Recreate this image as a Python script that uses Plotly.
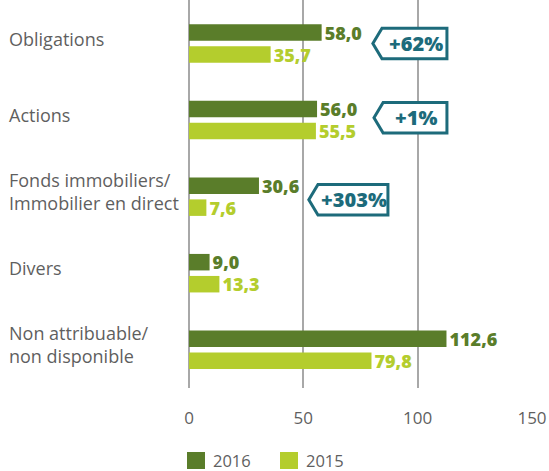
import plotly.graph_objects as go

categories = ["Obligations", "Actions", "Fonds immobiliers/<br>Immobilier en direct",
              "Divers", "Non attribuable/<br>non disponible"]
values_2016 = [58.0, 56.0, 30.6, 9.0, 112.6]
values_2015 = [35.7, 55.5, 7.6, 13.3, 79.8]
series_names = ["2016", "2015"]
tick_values = [0, 50, 100, 150]
tick_labels = ["0", "50", "100", "150"]
badge_labels = ["+62%", "+1%", "+303%"]

DARK = "#5a7d2a"
LIGHT = "#b4cd2d"
TEAL = "#1d6b7b"
GREY = "#5f5f5f"
GRID = "#a8a8a8"
FONT = "Open Sans"

W, H = 549, 471
ML, MR, MT, MB = 189, 17, 0, 83
PW, PH = W - ML - MR, H - MT - MB


def px_x(px):
    return (px - ML) / PW


def px_y(py):
    return (PH + MT - py) / PH


def fmt(v):
    return f"{v:.1f}".replace(".", ",")


idx = list(range(len(categories)))

fig = go.Figure()
for name, vals, col in [(series_names[0], values_2016, DARK), (series_names[1], values_2015, LIGHT)]:
    fig.add_trace(go.Bar(
        y=idx, x=vals, orientation="h", name=name,
        marker=dict(color=col, line=dict(width=0)),
        text=[fmt(v) for v in vals], textposition="outside",
        textfont=dict(color=col, size=18, family=FONT, weight=800),
        constraintext="none", cliponaxis=False, showlegend=False,
    ))

# category labels (left aligned)
for i, c in enumerate(categories):
    fig.add_annotation(
        x=px_x(8), xref="paper", y=i, yref="y", text=c, showarrow=False,
        xanchor="left", yanchor="middle", align="left", yshift=5, borderpad=0,
        font=dict(size=18, color=GREY, family=FONT),
    )

# badges: (category index, point x, rect right x, y offset)
badge_geom = [(0, 80.4, 112.8, 0.0), (1, 80.9, 112.8, -0.03), (2, 52.4, 87.0, 0.04)]
depth = 4.0
h = 0.2
for (i, xp, xr, dy), lab in zip(badge_geom, badge_labels):
    yc = i + dy
    xl = xp + depth
    path = (f"M {xp},{yc} L {xl},{yc - h} L {xr},{yc - h} "
            f"L {xr},{yc + h} L {xl},{yc + h} Z")
    fig.add_shape(type="path", path=path, xref="x", yref="y",
                  line=dict(color=TEAL, width=3), fillcolor="white", layer="above")
    fig.add_annotation(
        x=(xl + xr) / 2 + 0.6, y=yc, xref="x", yref="y", text=lab,
        showarrow=False, borderpad=0,
        font=dict(size=20, color=TEAL, family=FONT, weight=800),
    )

# legend (drawn manually to match the reference's sizes)
legend_items = [(series_names[0], DARK, 187), (series_names[1], LIGHT, 280)]
for name, col, x0 in legend_items:
    fig.add_shape(type="rect", xref="paper", yref="paper",
                  x0=px_x(x0), x1=px_x(x0 + 18), y0=px_y(469), y1=px_y(452),
                  fillcolor=col, line=dict(width=0))
    fig.add_annotation(
        x=px_x(x0 + 25), y=px_y(460), xref="paper", yref="paper", text=name,
        showarrow=False, xanchor="left", yanchor="middle", borderpad=0,
        font=dict(size=16.5, color=GREY, family=FONT),
    )

fig.update_layout(
    width=W, height=H,
    margin=dict(l=ML, r=MR, t=MT, b=MB),
    paper_bgcolor="white", plot_bgcolor="white",
    barmode="group", bargap=0.425, bargroupgap=0.25,
    font=dict(family=FONT, color=GREY, size=16),
    xaxis=dict(
        range=[0, 150], tickvals=tick_values, ticktext=tick_labels,
        showgrid=True, gridcolor=GRID, gridwidth=2,
        zeroline=True, zerolinecolor=GRID, zerolinewidth=2,
        showline=False, ticks="", ticklabelstandoff=18,
        tickfont=dict(size=17, color=GREY, family=FONT), fixedrange=True,
    ),
    yaxis=dict(
        range=[4.5, -0.569], showticklabels=False, showgrid=False,
        zeroline=False, showline=False, ticks="", fixedrange=True,
    ),
    showlegend=False,
)

fig.write_html("out.html", config={"displayModeBar": False},
               post_script="document.body.style.margin='0px';")
